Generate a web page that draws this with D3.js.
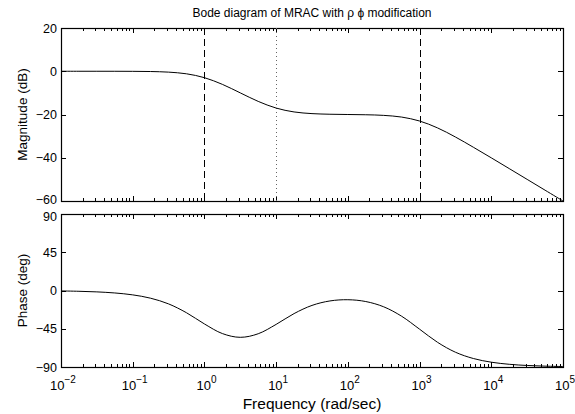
<!DOCTYPE html>
<html><head><meta charset="utf-8">
<script src="https://cdn.jsdelivr.net/npm/d3@7"></script>
<style>body{margin:0;background:#fff}svg{display:block;font-family:"Liberation Sans",Arial,Helvetica,sans-serif}</style>
</head><body>
<script>
// Frequencies (rad/sec), every quarter decade
const freq = [0.01,0.01778,0.03162,0.05623,0.1,0.1778,0.3162,0.5623,1,1.778,3.162,5.623,10,17.78,31.62,56.23,100,177.8,316.2,562.3,1000,1778,3162,5623,10000,17783,31623,56234,100000];
// Magnitude (dB)
const magnitude = [0,0,0,-0.01,-0.04,-0.13,-0.41,-1.18,-2.97,-6.06,-10.0,-13.94,-17.03,-18.82,-19.59,-19.88,-20.0,-20.12,-20.41,-21.19,-23.01,-26.19,-30.41,-35.14,-40.04,-45.01,-50.0,-55.0,-60.0];
// Phase (deg)
const phase = [-0.52,-0.92,-1.63,-2.9,-5.14,-9.07,-15.76,-26.17,-39.35,-50.66,-55.08,-50.88,-39.86,-27.16,-17.55,-12.28,-10.85,-12.98,-19.18,-30.28,-45.51,-60.93,-72.61,-80.01,-84.34,-86.81,-88.21,-88.99,-89.43];
const dashedFreqs = [1, 1000];
const dottedFreqs = [10];
const xDecades = [-2,-1,0,1,2,3,4,5];
const magTicks = [-60,-40,-20,0,20];
const phaseTicks = [-90,-45,0,45,90];

const W=575,H=414;
const svg=d3.select("body").append("svg").attr("width",W).attr("height",H);
const x=d3.scaleLog().domain([1e-2,1e5]).range([61,563]);
const yM=d3.scaleLinear().domain([-60,20]).range([201,28]);
const yP=d3.scaleLinear().domain([-90,90]).range([367,214]);

const majors=xDecades.map(e=>Math.pow(10,e));
const minors=[];
for(let e=-2;e<5;e++)for(let k=2;k<=9;k++)minors.push(k*Math.pow(10,e));

function panel(y,ticks,nudge){
  const [y0,y1]=y.range(); // bottom, top
  const g=svg.append("g");
  g.selectAll(".yl").data(ticks).join("text")
    .attr("x",57).attr("y",(d,i)=>y(d)+(nudge[i]||0)).attr("dy","0.36em")
    .attr("text-anchor","end").attr("font-size",12.5)
    .text(d=>d<0?"\u2212"+Math.abs(d):d);
  const tk=g.append("g").attr("stroke","#000").attr("stroke-width",1);
  ticks.forEach(t=>{
    const yy=Math.round(y(t))+0.5;
    tk.append("line").attr("x1",61).attr("x2",66).attr("y1",yy).attr("y2",yy);
    tk.append("line").attr("x1",563).attr("x2",558).attr("y1",yy).attr("y2",yy);
  });
  majors.forEach(f=>{
    const xx=Math.round(x(f))+0.5;
    tk.append("line").attr("x1",xx).attr("x2",xx).attr("y1",y0).attr("y2",y0-5);
    tk.append("line").attr("x1",xx).attr("x2",xx).attr("y1",y1).attr("y2",y1+5);
  });
  minors.forEach(f=>{
    const xx=Math.round(x(f))+0.5;
    tk.append("line").attr("x1",xx).attr("x2",xx).attr("y1",y0).attr("y2",y0-3);
    tk.append("line").attr("x1",xx).attr("x2",xx).attr("y1",y1).attr("y2",y1+3);
  });
  g.append("rect").attr("x",61.5).attr("y",Math.round(y1)+0.5)
    .attr("width",502).attr("height",Math.round(y0)-Math.round(y1))
    .attr("fill","none").attr("stroke","#000").attr("stroke-width",1.2);
  return g;
}

const gM=panel(yM,magTicks,[-2,0,0,0,0]);
const gP=panel(yP,phaseTicks,[0,0,0,0,2]);

gM.selectAll(".dash").data(dashedFreqs).join("line")
  .attr("x1",d=>Math.round(x(d))+0.5).attr("x2",d=>Math.round(x(d))+0.5)
  .attr("y1",yM.range()[1]).attr("y2",yM.range()[0])
  .attr("stroke","#000").attr("stroke-width",1).attr("stroke-dasharray","7,4");
gM.selectAll(".dot").data(dottedFreqs).join("line")
  .attr("x1",d=>Math.round(x(d))+0.5).attr("x2",d=>Math.round(x(d))+0.5)
  .attr("y1",yM.range()[1]).attr("y2",yM.range()[0])
  .attr("stroke","#666").attr("stroke-width",1).attr("stroke-dasharray","1,3");

const lineM=d3.line().x((d,i)=>x(freq[i])).y(d=>yM(d)).curve(d3.curveCatmullRom);
const lineP=d3.line().x((d,i)=>x(freq[i])).y(d=>yP(d)).curve(d3.curveCatmullRom);
gM.append("path").datum(magnitude).attr("d",lineM).attr("fill","none").attr("stroke","#000").attr("stroke-width",1);
gP.append("path").datum(phase).attr("d",lineP).attr("fill","none").attr("stroke","#000").attr("stroke-width",1);

const xl=svg.append("g").attr("font-size",13);
xDecades.forEach(e=>{
  const t=xl.append("text").attr("x",x(Math.pow(10,e))+2).attr("y",390).attr("text-anchor","middle");
  t.append("tspan").text("10");
  t.append("tspan").attr("dy",-7).attr("font-size",10).text(e<0?"\u2212"+Math.abs(e):e);
});

svg.append("text").attr("x",312).attr("y",17).attr("text-anchor","middle").attr("font-size",12)
  .text("Bode diagram of MRAC with \u03c1 \u03d5 modification");
svg.append("text").attr("x",312).attr("y",409).attr("text-anchor","middle").attr("font-size",15.5)
  .text("Frequency (rad/sec)");
svg.append("text").attr("transform","translate(27,"+((28+201)/2)+") rotate(-90)")
  .attr("text-anchor","middle").attr("font-size",13.5).text("Magnitude (dB)");
svg.append("text").attr("transform","translate(27,"+((214+367)/2)+") rotate(-90)")
  .attr("text-anchor","middle").attr("font-size",13.5).text("Phase (deg)");
</script>
</body></html>
